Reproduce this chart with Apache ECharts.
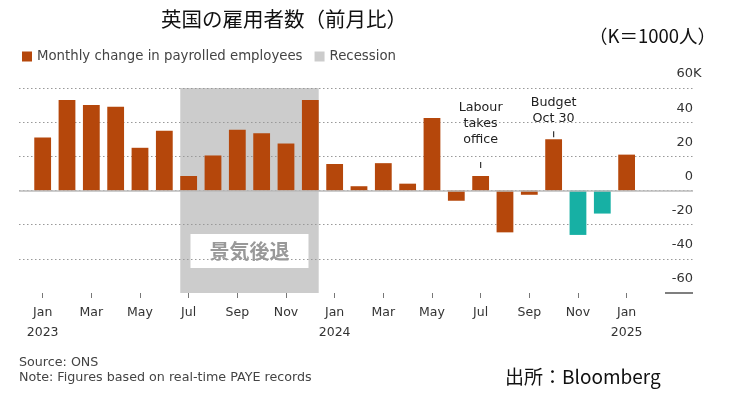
<!DOCTYPE html>
<html>
<head>
<meta charset="utf-8">
<script src="https://cdn.jsdelivr.net/npm/echarts@6/dist/echarts.min.js"></script>
<style>
  html, body { margin: 0; padding: 0; background: #fff; }
  #chart { width: 731px; height: 401px; }
</style>
</head>
<body>
<div id="chart"></div>
<script>
// 月次データ（単位：千人）
var months = ['Jan 2023','Feb 2023','Mar 2023','Apr 2023','May 2023','Jun 2023','Jul 2023','Aug 2023','Sep 2023','Oct 2023','Nov 2023','Dec 2023',
              'Jan 2024','Feb 2024','Mar 2024','Apr 2024','May 2024','Jun 2024','Jul 2024','Aug 2024','Sep 2024','Oct 2024','Nov 2024','Dec 2024',
              'Jan 2025'];
var changes = [31, 53, 50, 49, 25, 35, 8.5, 20.5, 35.5, 33.5, 27.5, 53,
               15.5, 2.5, 16, 4, 42.5, -6, 8.5, -24.5, -2.5, 30, -26, -13.5,
               21];
var flashMonths = ['Nov 2024', 'Dec 2024'];
var recession = ['Jul 2023', 'Dec 2023'];
var yTicks = [-60, -40, -20, 0, 20, 40, 60];
var notes = [
  { month: 'Jul 2024', text: 'Labour\ntakes\noffice', y: 15 },
  { month: 'Oct 2024', text: 'Budget\nOct 30', y: 33 }
];

var orange = '#B5470B';
var teal = '#17B0A4';
var grey = '#CCCCCC';
var font = 'DejaVu Sans, Verdana, sans-serif';
var cjk = '"Noto Sans CJK JP", sans-serif';

// レイアウト
var plotL = 19, plotR = 693, barL = 30.5, barR = 638.8;
var bandW = (barR - barL) / months.length;
var xMin = (plotL - barL) / bandW - 0.5;
var xMax = (plotR - barL) / bandW - 0.5;
var half = 0.345;

var myChart = echarts.init(document.getElementById('chart'));

var option = {
  animation: false,
  legend: {
    left: 22, top: 50, padding: 0,
    icon: 'rect', itemWidth: 10, itemHeight: 10, itemGap: 12,
    textStyle: { fontFamily: font, fontSize: 13.3, color: '#444' },
    data: ['Monthly change in payrolled employees', 'Recession']
  },
  grid: [
    { left: plotL, right: 731 - plotR, top: 88, bottom: 108 },
    { left: barL, right: 731 - barR, top: 88, bottom: 108 }
  ],
  xAxis: [
    { type: 'value', gridIndex: 0, min: xMin, max: xMax, show: false },
    {
      type: 'category', gridIndex: 1, data: months, boundaryGap: true,
      axisLine: { show: false, onZero: false },
      axisTick: { show: true, alignWithLabel: true, interval: 1, length: 5, lineStyle: { color: '#777' } },
      axisLabel: {
        interval: 1, margin: 10, fontFamily: font, fontSize: 12.5, color: '#333', lineHeight: 19.5,
        formatter: function (v) {
          var p = v.split(' ');
          return p[0] === 'Jan' ? p[0] + '\n' + p[1] : p[0];
        }
      }
    }
  ],
  yAxis: [
    {
      type: 'value', gridIndex: 0, min: yTicks[0], max: yTicks[yTicks.length - 1], interval: 20, position: 'right', z: 2,
      axisLine: { show: false }, axisTick: { show: false },
      splitLine: { showMinLine: false, lineStyle: { color: '#999', type: [1.5, 2.5], width: 1 } },
      axisLabel: {
        inside: true, margin: 0, align: 'right', verticalAlign: 'bottom', padding: [0, 0, 6, 0],
        fontFamily: font, fontSize: 13, color: '#333', lineHeight: 16,
        formatter: function (v) { return v === 60 ? '{u|' + v + 'K}' : String(v); },
        rich: { u: { fontFamily: font, fontSize: 13, color: '#333', lineHeight: 16, width: 16.5, align: 'left' } }
      }
    },
    { type: 'value', gridIndex: 1, min: yTicks[0], max: yTicks[yTicks.length - 1], interval: 20, show: false }
  ],
  series: [
    {
      name: 'Recession', type: 'bar', xAxisIndex: 0, yAxisIndex: 0, data: [], z: 1,
      itemStyle: { color: grey },
      markArea: {
        silent: true, z: 1,
        itemStyle: { color: grey },
        label: {
          show: true, position: 'insideBottom', distance: 25,
          formatter: '景気後退', fontFamily: cjk, fontSize: 20, fontWeight: 'bold', color: '#999',
          backgroundColor: '#fff', padding: [7, 19, 7, 19]
        },
        data: [[
          { xAxis: months.indexOf(recession[0]) - half },
          { xAxis: months.indexOf(recession[1]) + half }
        ]]
      },
      markLine: {
        silent: true, symbol: 'none', label: { show: false },
        data: [
          { yAxis: 0, lineStyle: { color: '#bbb', width: 1.5, type: 'solid' } },
          [
            { coord: [(665 - barL) / bandW - 0.5, yTicks[0]], lineStyle: { color: '#555', width: 1.5, type: 'solid' } },
            { coord: [xMax, yTicks[0]] }
          ]
        ]
      }
    },
    {
      name: 'Monthly change in payrolled employees', type: 'bar', xAxisIndex: 1, yAxisIndex: 1, z: 4,
      barWidth: '69%',
      itemStyle: { color: orange },
      data: changes.map(function (v, i) {
        return flashMonths.indexOf(months[i]) >= 0 ? { value: v, itemStyle: { color: teal } } : v;
      }),
      markPoint: {
        silent: true,
        symbol: 'rect', symbolSize: [1.2, 6],
        itemStyle: { color: '#333' },
        label: { show: true, position: 'top', fontFamily: font, fontSize: 12.7, color: '#222', lineHeight: 16 },
        data: notes.map(function (n, i) {
          return { coord: [n.month, n.y], label: { formatter: n.text, distance: i === 0 ? 14 : 4 } };
        })
      }
    }
  ],
  graphic: [
    { type: 'text', left: 161, top: 9, style: { text: '英国の雇用者数（前月比）', font: '20.5px ' + cjk, fill: '#111' } },
    { type: 'text', left: 589, top: 27, style: { text: '（K＝1000人）', font: '18.5px ' + cjk, fill: '#111' } },
    { type: 'text', left: 19, top: 356, style: { text: 'Source: ONS', font: '12.7px ' + font, fill: '#444' } },
    { type: 'text', left: 19, top: 371, style: { text: 'Note: Figures based on real-time PAYE records', font: '12.7px ' + font, fill: '#444' } },
    { type: 'text', left: 505, top: 367, style: { text: '出所：Bloomberg', font: '19px ' + cjk, fill: '#111' } }
  ]
};

myChart.setOption(option);
</script>
</body>
</html>
